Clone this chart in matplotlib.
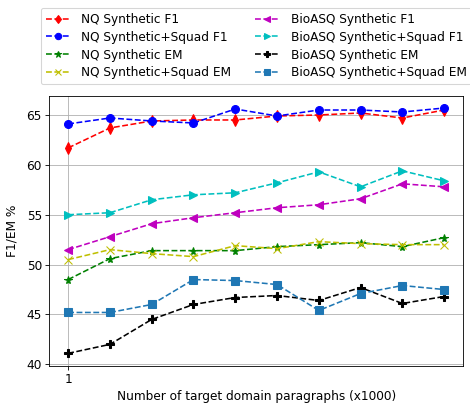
import numpy as np
import matplotlib
matplotlib.use("Agg")
import matplotlib.pyplot as plt

# number of target domain paragraphs (x1000)
x = np.arange(1, 11)

nq_syn_f1 = [61.7, 63.7, 64.4, 64.5, 64.5, 64.9, 65.0, 65.2, 64.7, 65.5]
nq_syn_squad_f1 = [64.1, 64.7, 64.4, 64.2, 65.6, 64.9, 65.5, 65.5, 65.3, 65.7]
nq_syn_em = [48.5, 50.6, 51.4, 51.4, 51.4, 51.8, 52.0, 52.2, 51.8, 52.7]
nq_syn_squad_em = [50.5, 51.5, 51.1, 50.8, 51.9, 51.6, 52.3, 52.1, 52.0, 52.0]
bio_syn_f1 = [51.5, 52.8, 54.1, 54.7, 55.2, 55.7, 56.0, 56.6, 58.1, 57.8]
bio_syn_squad_f1 = [55.0, 55.2, 56.5, 57.0, 57.2, 58.2, 59.3, 57.8, 59.4, 58.4]
bio_syn_em = [41.1, 42.0, 44.5, 46.0, 46.7, 46.9, 46.4, 47.7, 46.1, 46.8]
bio_syn_squad_em = [45.2, 45.2, 46.0, 48.5, 48.4, 48.0, 45.4, 47.1, 47.9, 47.5]

plt.rcParams['font.size'] = 11.5

# render at low dpi so the whole picture is scaled like the reference
dpi = 76
fig = plt.figure(figsize=(470 / dpi, 404 / dpi), dpi=dpi)
ax = fig.add_axes([0.105, 0.095, 0.88, 0.668])

ms = 7.5
ax.plot(x, nq_syn_f1, 'r--', marker='d', markersize=ms, label='NQ Synthetic F1')
ax.plot(x, nq_syn_squad_f1, 'b--', marker='o', markersize=ms, label='NQ Synthetic+Squad F1')
ax.plot(x, nq_syn_em, 'g--', marker='*', markersize=ms, label='NQ Synthetic EM')
ax.plot(x, nq_syn_squad_em, 'y--', marker='x', markersize=ms, label='NQ Synthetic+Squad EM')
ax.plot(x, bio_syn_f1, 'm--', marker='<', markersize=ms, label='BioASQ Synthetic F1')
ax.plot(x, bio_syn_squad_f1, 'c--', marker='>', markersize=ms, label='BioASQ Synthetic+Squad F1')
ax.plot(x, bio_syn_em, 'k--', marker='P', markersize=ms, label='BioASQ Synthetic EM')
ax.plot(x, bio_syn_squad_em, '--', color='#1f77b4', marker='s', markersize=ms,
        label='BioASQ Synthetic+Squad EM')

ax.set_xticks([1])
ax.set_xlabel('Number of target domain paragraphs (x1000)')
ax.set_ylabel('F1/EM %', labelpad=8)
ax.grid(True)
ax.legend(ncol=2, loc='lower center', bbox_to_anchor=(0.5, 1.02),
          markerscale=0.8, handletextpad=0.9, labelspacing=0.4)

fig.savefig('out.png', dpi=dpi)
